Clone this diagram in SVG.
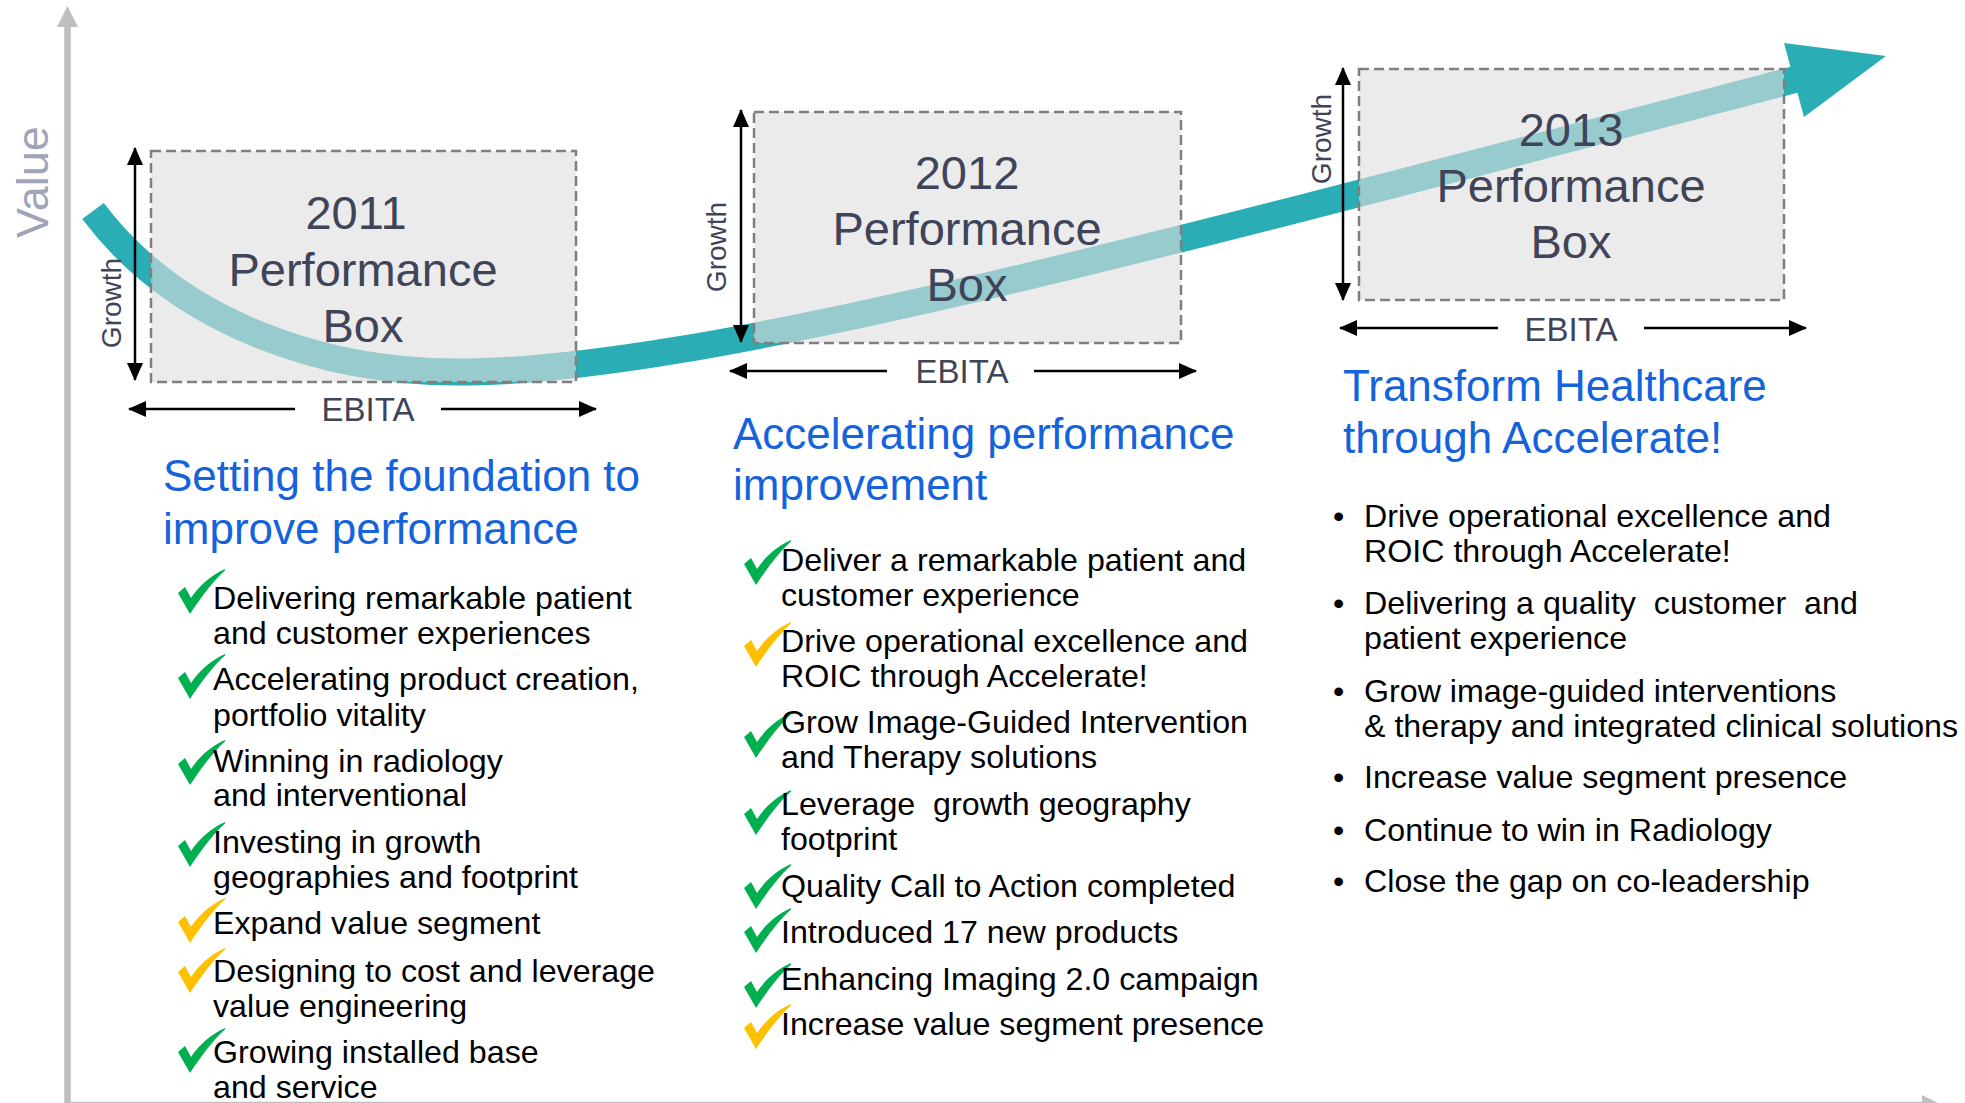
<svg xmlns="http://www.w3.org/2000/svg" xmlns:xlink="http://www.w3.org/1999/xlink" width="1965" height="1103" viewBox="0 0 1965 1103">
<defs>
<style>
text{font-family:"Liberation Sans",Arial,sans-serif}
.box{fill:#dedede;fill-opacity:0.61;stroke:#7f7f7f;stroke-width:2.5;stroke-dasharray:10 5}
.boxt{font-size:47px;fill:#404458;text-anchor:middle}
.dim{stroke:#000;stroke-width:2.5;fill:none;marker-end:url(#ah)}
.dimt{font-size:33px;fill:#404458;text-anchor:middle}
.gro{font-size:28px;fill:#404458;text-anchor:middle}
.title{font-size:44px;fill:#1563dc}
.item{font-size:32.2px;fill:#000;white-space:pre}
.g{fill:#00b050}
.y{fill:#ffc000}
</style>
<marker id="ah" viewBox="0 0 18 16" refX="17" refY="8" markerWidth="18" markerHeight="16" markerUnits="userSpaceOnUse" orient="auto">
<path d="M0,0 L18,8 L0,16 Z" fill="#000"/>
</marker>
<path id="chk" d="M0,24 L7,18 L13,29 C21,17 33,6 47,0 L47,1.5 C36,11 24,27 12,45 Z"/>
</defs>
<rect width="1965" height="1103" fill="#fff"/>

<g id="axes">
<line x1="67.5" y1="1103" x2="67.5" y2="25" stroke="#bfbfbf" stroke-width="6.5"/>
<polygon points="57,27 67.5,6 78,27" fill="#bfbfbf"/>
<line x1="67.5" y1="1105" x2="1924" y2="1105" stroke="#bfbfbf" stroke-width="6.5"/>
<polygon points="1922,1095 1942,1105 1922,1115" fill="#bfbfbf"/>
<text transform="translate(48,182) rotate(-90)" font-size="45" fill="#a0a4b8" text-anchor="middle">Value</text>
</g>

<g id="connectors">
<path d="M93,211 C175,320 320,375 470,372 C700,368 1100,262 1797,79" fill="none" stroke="#2aadb5" stroke-width="27"/>
<polygon points="1784,43 1886,56 1804,117" fill="#2aadb5"/>
</g>

<g id="box2011">
<rect class="box" x="151" y="151" width="425" height="231"/>
<text class="boxt" x="356" y="229">2011</text>
<text class="boxt" x="363" y="286">Performance</text>
<text class="boxt" x="363" y="342">Box</text>
<line class="dim" x1="135" y1="265" x2="135" y2="148"/>
<line class="dim" x1="135" y1="265" x2="135" y2="380"/>
<text class="gro" transform="translate(121,303) rotate(-90)">Growth</text>
<line class="dim" x1="295" y1="409" x2="129" y2="409"/>
<line class="dim" x1="441" y1="409" x2="596" y2="409"/>
<text class="dimt" x="368" y="421">EBITA</text>
</g>

<g id="box2012">
<rect class="box" x="754" y="112" width="427" height="231"/>
<text class="boxt" x="967" y="189">2012</text>
<text class="boxt" x="967" y="245">Performance</text>
<text class="boxt" x="967" y="301">Box</text>
<line class="dim" x1="741" y1="226" x2="741" y2="110"/>
<line class="dim" x1="741" y1="226" x2="741" y2="342"/>
<text class="gro" transform="translate(726,247) rotate(-90)">Growth</text>
<line class="dim" x1="887" y1="371" x2="730" y2="371"/>
<line class="dim" x1="1034" y1="371" x2="1196" y2="371"/>
<text class="dimt" x="962" y="383">EBITA</text>
</g>

<g id="box2013">
<rect class="box" x="1359" y="69" width="425" height="231"/>
<text class="boxt" x="1571" y="146">2013</text>
<text class="boxt" x="1571" y="202">Performance</text>
<text class="boxt" x="1571" y="258">Box</text>
<line class="dim" x1="1343" y1="184" x2="1343" y2="68"/>
<line class="dim" x1="1343" y1="184" x2="1343" y2="300"/>
<text class="gro" transform="translate(1331,139) rotate(-90)">Growth</text>
<line class="dim" x1="1498" y1="328" x2="1340" y2="328"/>
<line class="dim" x1="1644" y1="328" x2="1806" y2="328"/>
<text class="dimt" x="1571" y="341">EBITA</text>
</g>

<g id="col2011">
<text class="title" x="163" y="491">Setting the foundation to</text>
<text class="title" x="163" y="544">improve performance</text>
<use xlink:href="#chk" class="g" x="178" y="569"/>
<text class="item" x="213" y="609">Delivering remarkable patient</text>
<text class="item" x="213" y="644">and customer experiences</text>
<use xlink:href="#chk" class="g" x="178" y="654"/>
<text class="item" x="213" y="690">Accelerating product creation,</text>
<text class="item" x="213" y="726">portfolio vitality</text>
<use xlink:href="#chk" class="g" x="178" y="740"/>
<text class="item" x="213" y="772">Winning in radiology</text>
<text class="item" x="213" y="806">and interventional</text>
<use xlink:href="#chk" class="g" x="178" y="822"/>
<text class="item" x="213" y="853">Investing in growth</text>
<text class="item" x="213" y="888">geographies and footprint</text>
<use xlink:href="#chk" class="y" x="178" y="898"/>
<text class="item" x="213" y="934">Expand value segment</text>
<use xlink:href="#chk" class="y" x="178" y="948"/>
<text class="item" x="213" y="982">Designing to cost and leverage</text>
<text class="item" x="213" y="1017">value engineering</text>
<use xlink:href="#chk" class="g" x="178" y="1028"/>
<text class="item" x="213" y="1063">Growing installed base</text>
<text class="item" x="213" y="1098">and service</text>
</g>

<g id="col2012">
<text class="title" x="733" y="449">Accelerating performance</text>
<text class="title" x="733" y="500">improvement</text>
<use xlink:href="#chk" class="g" x="744" y="540"/>
<text class="item" x="781" y="571">Deliver a remarkable patient and</text>
<text class="item" x="781" y="606">customer experience</text>
<use xlink:href="#chk" class="y" x="744" y="622"/>
<text class="item" x="781" y="652">Drive operational excellence and</text>
<text class="item" x="781" y="687">ROIC through Accelerate!</text>
<use xlink:href="#chk" class="g" x="744" y="713"/>
<text class="item" x="781" y="733">Grow Image-Guided Intervention</text>
<text class="item" x="781" y="768">and Therapy solutions</text>
<use xlink:href="#chk" class="g" x="744" y="790"/>
<text class="item" x="781" y="815" xml:space="preserve">Leverage  growth geography</text>
<text class="item" x="781" y="850">footprint</text>
<use xlink:href="#chk" class="g" x="744" y="864"/>
<text class="item" x="781" y="897">Quality Call to Action completed</text>
<use xlink:href="#chk" class="g" x="744" y="908"/>
<text class="item" x="781" y="943">Introduced 17 new products</text>
<use xlink:href="#chk" class="g" x="744" y="963"/>
<text class="item" x="781" y="990">Enhancing Imaging 2.0 campaign</text>
<use xlink:href="#chk" class="y" x="744" y="1004"/>
<text class="item" x="781" y="1035">Increase value segment presence</text>
</g>

<g id="col2013">
<text class="title" x="1343" y="401">Transform Healthcare</text>
<text class="title" x="1343" y="453">through Accelerate!</text>
<text class="item" x="1333" y="527">•</text>
<text class="item" x="1364" y="527">Drive operational excellence and</text>
<text class="item" x="1364" y="562">ROIC through Accelerate!</text>
<text class="item" x="1333" y="614">•</text>
<text class="item" x="1364" y="614" xml:space="preserve">Delivering a quality  customer  and</text>
<text class="item" x="1364" y="649">patient experience</text>
<text class="item" x="1333" y="702">•</text>
<text class="item" x="1364" y="702">Grow image-guided interventions</text>
<text class="item" x="1364" y="737">&amp; therapy and integrated clinical solutions</text>
<text class="item" x="1333" y="788">•</text>
<text class="item" x="1364" y="788">Increase value segment presence</text>
<text class="item" x="1333" y="841">•</text>
<text class="item" x="1364" y="841">Continue to win in Radiology</text>
<text class="item" x="1333" y="892">•</text>
<text class="item" x="1364" y="892">Close the gap on co-leadership</text>
</g>
</svg>
